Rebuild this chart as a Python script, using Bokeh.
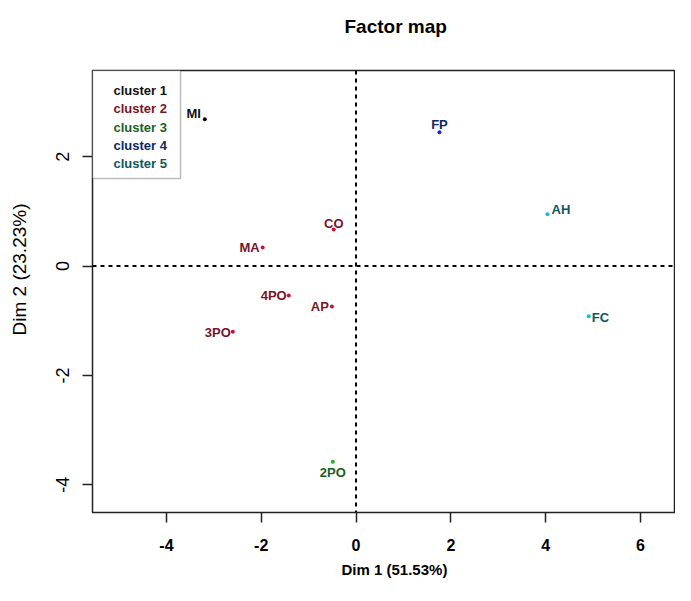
import numpy as np
from bokeh.plotting import figure
from bokeh.models import ColumnDataSource, Span, Label, BoxAnnotation, FixedTicker, Range1d, Title
from bokeh.core.properties import value
from bokeh.embed import file_html
from bokeh.resources import INLINE

# ---- data ----
names = ["MI", "CO", "MA", "4PO", "AP", "3PO", "2PO", "FP", "AH", "FC"]
dim1 = [-3.19, -0.47, -1.97, -1.42, -0.51, -2.60, -0.49, 1.76, 4.04, 4.91]
dim2 = [2.69, 0.67, 0.34, -0.54, -0.74, -1.20, -3.58, 2.45, 0.95, -0.92]
cluster = [1, 2, 2, 2, 2, 2, 3, 4, 5, 5]
cluster_labels = ["cluster 1", "cluster 2", "cluster 3", "cluster 4", "cluster 5"]
x_ticks = [-4, -2, 0, 2, 4, 6]
y_ticks = [-4, -2, 0, 2]

# ---- styles ----
text_cols = {1: "#111111", 2: "#7a1424", 3: "#1d5e1d", 4: "#0c2766", 5: "#0e5560"}
dot_cols = {1: "#000000", 2: "#d01030", 3: "#20b020", 4: "#1030c0", 5: "#10c0d0"}
lab_dx = {"MI": -4, "CO": 0, "MA": -3, "4PO": -2, "AP": -3, "3PO": -2, "2PO": 0, "FP": 0, "AH": 4, "FC": 3}
lab_dy = {"MI": -6, "CO": -6, "MA": 0, "4PO": 0, "AP": 0, "3PO": 1, "2PO": 11, "FP": -8, "AH": -5, "FC": 1}
lab_al = {"MI": "right", "CO": "center", "MA": "right", "4PO": "right", "AP": "right", "3PO": "right",
          "2PO": "center", "FP": "center", "AH": "left", "FC": "left"}

FONT = "Liberation Sans"

src = ColumnDataSource(dict(
    x=dim1, y=dim2, name=names,
    tcol=[text_cols[c] for c in cluster],
    dcol=[dot_cols[c] for c in cluster],
    dx=[lab_dx[n] for n in names],
    dy=[lab_dy[n] for n in names],
    al=[lab_al[n] for n in names],
))

p = figure(width=675, height=585, output_backend="svg", toolbar_location=None,
           x_range=Range1d(-5.56, 6.74), y_range=Range1d(-4.51, 3.58),
           min_border_left=92, min_border_right=0, min_border_top=70, min_border_bottom=73)
p.background_fill_color = "white"
p.border_fill_color = "white"
p.grid.visible = False
p.outline_line_color = "#222222"
p.outline_line_width = 1.5

# main title (outermost) with a spacer between it and the frame
p.title.text = "Factor map"
p.title.align = "left"
p.title.offset = 252
p.title.text_font = FONT
p.title.text_font_style = "bold"
p.title.text_font_size = "19px"
p.title.text_color = "black"
p.add_layout(Title(text=" ", text_font_size="15px"), "above")

for ax in (p.xaxis[0], p.yaxis[0]):
    ax.axis_line_color = None
    ax.major_tick_line_color = "#222222"
    ax.major_tick_line_width = 1.5
    ax.major_tick_out = 10
    ax.major_tick_in = 0
    ax.minor_tick_line_color = None
    ax.major_label_text_color = "black"

p.xaxis.ticker = FixedTicker(ticks=x_ticks)
p.yaxis.ticker = FixedTicker(ticks=y_ticks)
p.xaxis.major_label_overrides = {t: str(t) for t in x_ticks}
p.yaxis.major_label_overrides = {t: str(t) for t in y_ticks}
p.xaxis.major_label_text_font = FONT
p.xaxis.major_label_text_font_style = "bold"
p.xaxis.major_label_text_font_size = "16px"
p.xaxis.major_label_standoff = 16

p.yaxis.major_label_orientation = "vertical"
p.yaxis.major_label_text_font = FONT
p.yaxis.major_label_text_font_size = "18px"
p.yaxis.major_label_standoff = 13

# axis titles as Titles so they can be offset like the original
p.add_layout(Title(text="Dim 1 (51.53%)", align="left", offset=249, text_font=FONT,
                   text_font_style="bold", text_font_size="15px", text_color="black"), "below")
p.add_layout(Title(text=" ", text_font_size="7px"), "left")
p.add_layout(Title(text="Dim 2 (23.23%)", align="left", offset=177, text_font=FONT,
                   text_font_style="normal", text_font_size="19px", text_color="black"), "left")

p.add_layout(Span(location=0, dimension="height", line_color="black", line_width=2, line_dash="4 4"))
p.add_layout(Span(location=0, dimension="width", line_color="black", line_width=2, line_dash="4 4"))

p.scatter("x", "y", source=src, size=4, color="dcol", line_color=None)
p.text("x", "y", text="name", source=src, text_color="tcol", text_align="al",
       text_baseline="middle", x_offset="dx", y_offset="dy",
       text_font=value(FONT), text_font_style="bold", text_font_size="13px")

# legend box (screen units, relative to frame)
p.add_layout(BoxAnnotation(left=0, right=88, top=442, bottom=334,
                           left_units="screen", right_units="screen", top_units="screen", bottom_units="screen",
                           fill_color="white", fill_alpha=1, line_color="#222222", line_width=1.5))
for i, lab in enumerate(cluster_labels):
    p.add_layout(Label(x=21, y=422 - i * 18.3, x_units="screen", y_units="screen", text=lab,
                       text_color=text_cols[i + 1], text_font=FONT, text_font_style="bold",
                       text_font_size="13px", text_baseline="middle"))

open("out.html", "w").write(file_html(p, INLINE))
